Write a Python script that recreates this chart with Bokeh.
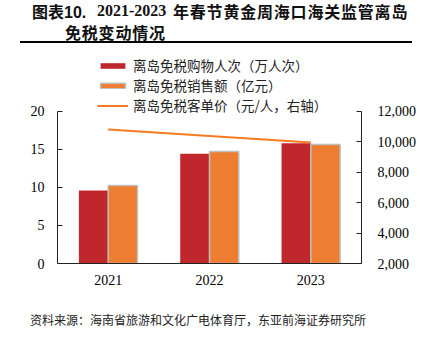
from bokeh.plotting import figure
from bokeh.models import (ColumnDataSource, Range1d, LinearAxis, NumeralTickFormatter,
                          Legend, LegendItem, FactorRange, Div)
from bokeh.layouts import column
from bokeh.transform import dodge
from bokeh.embed import file_html
from bokeh.resources import INLINE

years = ["2021", "2022", "2023"]
shoppers = [9.58, 14.42, 15.82]      # 离岛免税购物人次（万人次）
sales = [10.24, 14.73, 15.65]        # 离岛免税销售额（亿元）
unit_price = [10800, 10380, 9960]    # 离岛免税客单价（元/人）
left_ticks = [0, 5, 10, 15, 20]
right_ticks = [2000, 4000, 6000, 8000, 10000, 12000]

title_a = "图表"
title_b = "10."
title_c = "2021-2023"
title_d = "年春节黄金周海口海关监管离岛"
title_e = "免税变动情况"
legend_labels = ["离岛免税购物人次（万人次）", "离岛免税销售额（亿元）", "离岛免税客单价（元/人，右轴）"]
source_text = "资料来源：海南省旅游和文化广电体育厅，东亚前海证券研究所"

W = 424
CJK = "'Noto Sans CJK SC'"
SERIF = "Liberation Serif"

t = "position:absolute;display:block;font-weight:bold;line-height:20px;white-space:nowrap;font-size:16px;"
title_html = f"""<div style="position:relative;width:{W}px;height:46px;font-family:{CJK};color:#111;">
<span style="{t}left:32px;top:1px;">{title_a}<span style="font-family:'Liberation Sans';">{title_b}</span></span>
<span style="{t}left:97px;top:1px;font-family:'Liberation Serif';">{title_c}</span>
<span style="{t}left:173px;top:1px;letter-spacing:0.8px;">{title_d}</span>
<span style="{t}left:65px;top:22px;letter-spacing:0.8px;">{title_e}</span>
<svg style="position:absolute;left:20px;top:41px;" width="392" height="2" xmlns="http://www.w3.org/2000/svg"><rect x="0" y="0" width="392" height="2" fill="#000000"/></svg>
</div>"""

source_html = f"""<div style="position:relative;width:{W}px;height:30px;font-family:{CJK};color:#222;">
<span style="position:absolute;display:block;left:30px;top:1px;font-size:12px;line-height:16px;white-space:nowrap;">{source_text}</span>
</div>"""

title_div = Div(text=title_html, width=W, height=46, margin=0)
source_div = Div(text=source_html, width=W, height=30, margin=0)

rule_bottom = figure(width=392, height=2, toolbar_location=None, output_backend="svg",
                     margin=(5, 12, 0, 20), min_border=0,
                     x_range=Range1d(0, 1), y_range=Range1d(0, 1))
rule_bottom.axis.visible = False
rule_bottom.grid.visible = False
rule_bottom.outline_line_color = None
rule_bottom.background_fill_color = "#000000"
rule_bottom.border_fill_color = "#000000"

src = ColumnDataSource(dict(year=years, shoppers=shoppers, sales=sales, price=unit_price))

Y_TOP = 28
p = figure(width=W, height=258, x_range=FactorRange(*years), y_range=Range1d(0, Y_TOP),
           output_backend="svg", toolbar_location=None, margin=0,
           min_border_left=57, min_border_right=63, min_border_top=4, min_border_bottom=41)
p.extra_y_ranges = {"right": Range1d(2000, 2000 + Y_TOP * 500)}
p.x_range.range_padding = 0
p.grid.visible = False
p.outline_line_color = None
p.background_fill_color = "white"
p.border_fill_color = None

r1 = p.vbar(x=dodge("year", -0.1445, range=p.x_range), top="shoppers", width=0.289, source=src,
            fill_color="#c0272d", line_color=None)
r2 = p.vbar(x=dodge("year", 0.1445, range=p.x_range), top="sales", width=0.289, source=src,
            fill_color="#ed7d31", line_color="#bfbfbf", line_width=1.5)
r3 = p.line(x="year", y="price", source=src, y_range_name="right", line_color="#f47b20", line_width=2)

la = p.yaxis[0]
la.ticker = left_ticks
la.bounds = (0, 20)
la.major_label_standoff = 13
ra = LinearAxis(y_range_name="right", ticker=right_ticks, formatter=NumeralTickFormatter(format="0,0"),
                bounds=(2000, 12000))
ra.major_label_standoff = 16
p.add_layout(ra, "right")

for ax in p.yaxis:
    ax.major_tick_in = 5
    ax.major_tick_out = 0
    ax.minor_tick_line_color = None
    ax.axis_line_color = "#222222"
    ax.major_tick_line_color = "#222222"
    ax.major_label_text_font = SERIF
    ax.major_label_text_font_size = "14px"
    ax.major_label_text_color = "black"
p.xaxis.major_tick_line_color = None
p.xaxis.minor_tick_line_color = None
p.xaxis.axis_line_color = "#222222"
p.xaxis.major_label_text_font = SERIF
p.xaxis.major_label_text_font_size = "14px"
p.xaxis.major_label_text_color = "black"
p.xaxis.major_label_standoff = 5

legend = Legend(items=[LegendItem(label=legend_labels[0], renderers=[r1]),
                       LegendItem(label=legend_labels[1], renderers=[r2]),
                       LegendItem(label=legend_labels[2], renderers=[r3])],
                location=(40, 148), orientation="vertical",
                glyph_width=31, glyph_height=7, label_height=14, spacing=-8,
                label_text_font="Noto Sans CJK SC", label_text_font_size="13.5px", label_text_color="#222222",
                border_line_color=None, background_fill_alpha=0, padding=0, margin=0,
                label_standoff=5)
p.add_layout(legend, "center")

layout = column(title_div, p, rule_bottom, source_div, spacing=0, margin=0)
open("out.html", "w").write(file_html(layout, INLINE))
